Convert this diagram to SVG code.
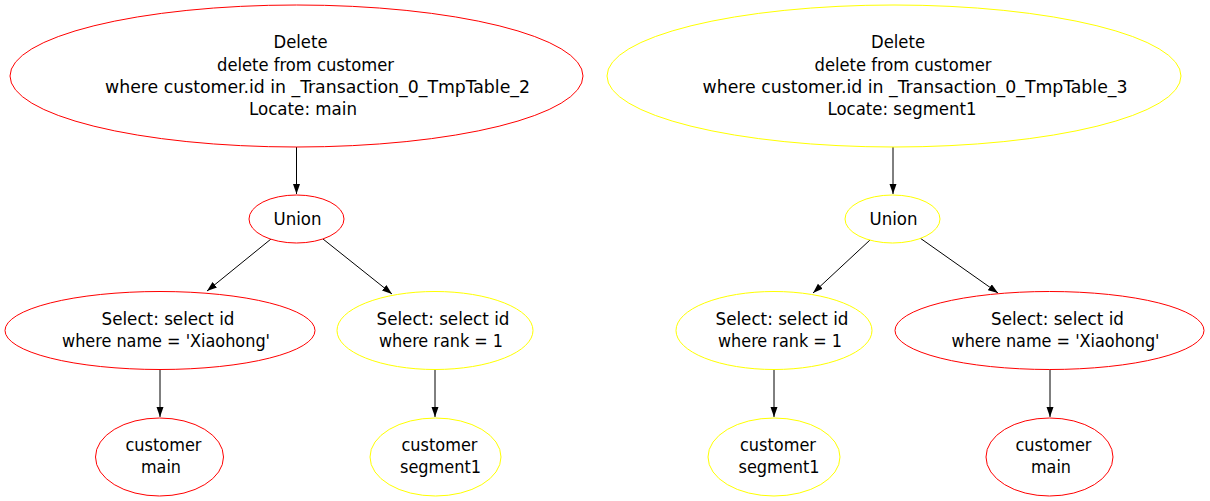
<svg xmlns="http://www.w3.org/2000/svg" width="1210" height="501" viewBox="0 0 1210 501">
<style>
  .n { fill: #ffffff; stroke-width: 1; }
  .red { stroke: #ff0000; }
  .yel { stroke: #ffff00; }
  text { font-family: "DejaVu Sans Condensed", "DejaVu Sans", sans-serif; font-size: 18px; fill: #000000; text-anchor: middle; }
  .e { stroke: #000000; stroke-width: 1; fill: none; marker-end: url(#ah); }
</style>
<defs>
  <marker id="ah" markerUnits="userSpaceOnUse" markerWidth="11" markerHeight="8" refX="10" refY="3.5" orient="auto">
    <path d="M0,0 L10,3.5 L0,7 Z" fill="#000000"/>
  </marker>
</defs>
<rect width="1210" height="501" fill="#ffffff"/>
<g id="edges">
  <line class="e" x1="296.5" y1="147" x2="296.5" y2="194"/>
  <line class="e" x1="271" y1="239" x2="207" y2="291"/>
  <line class="e" x1="323" y1="239" x2="392" y2="294"/>
  <line class="e" x1="160" y1="369" x2="160" y2="417"/>
  <line class="e" x1="435" y1="369" x2="435" y2="417"/>
  <line class="e" x1="893" y1="147" x2="893" y2="194"/>
  <line class="e" x1="870" y1="240" x2="813" y2="293"/>
  <line class="e" x1="920" y1="238" x2="998" y2="293"/>
  <line class="e" x1="774" y1="369" x2="774" y2="417"/>
  <line class="e" x1="1050" y1="369" x2="1050" y2="417"/>
</g>
<g id="deleteL">
  <ellipse class="n red" cx="296.5" cy="76" rx="286.5" ry="71"/>
  <text x="300.5" y="48" textLength="54" lengthAdjust="spacingAndGlyphs">Delete</text>
  <text x="305.5" y="71" textLength="177" lengthAdjust="spacingAndGlyphs">delete from customer</text>
  <text x="317.5" y="93" textLength="425" lengthAdjust="spacingAndGlyphs">where customer.id in _Transaction_0_TmpTable_2</text>
  <text x="303" y="115" textLength="108" lengthAdjust="spacingAndGlyphs">Locate: main</text>
</g>
<g id="unionL">
  <ellipse class="n red" cx="296.5" cy="219" rx="47.5" ry="24"/>
  <text x="297.5" y="225" textLength="48" lengthAdjust="spacingAndGlyphs">Union</text>
</g>
<g id="selectL1">
  <ellipse class="n red" cx="160" cy="330.5" rx="155" ry="39"/>
  <text x="168" y="325" textLength="133" lengthAdjust="spacingAndGlyphs">Select: select id</text>
  <text x="166" y="347" textLength="208" lengthAdjust="spacingAndGlyphs">where name = 'Xiaohong'</text>
</g>
<g id="selectL2">
  <ellipse class="n yel" cx="435" cy="330.5" rx="98" ry="39"/>
  <text x="443" y="325" textLength="133" lengthAdjust="spacingAndGlyphs">Select: select id</text>
  <text x="441" y="347" textLength="124" lengthAdjust="spacingAndGlyphs">where rank = 1</text>
</g>
<g id="custL1">
  <ellipse class="n red" cx="159.5" cy="457" rx="64" ry="39"/>
  <text x="163.5" y="451" textLength="76" lengthAdjust="spacingAndGlyphs">customer</text>
  <text x="161" y="473" textLength="40" lengthAdjust="spacingAndGlyphs">main</text>
</g>
<g id="custL2">
  <ellipse class="n yel" cx="435.5" cy="457" rx="65.5" ry="39"/>
  <text x="439.5" y="451" textLength="76" lengthAdjust="spacingAndGlyphs">customer</text>
  <text x="440.5" y="473" textLength="81" lengthAdjust="spacingAndGlyphs">segment1</text>
</g>
<g id="deleteR">
  <ellipse class="n yel" cx="894" cy="76" rx="287" ry="71"/>
  <text x="898" y="48" textLength="54" lengthAdjust="spacingAndGlyphs">Delete</text>
  <text x="903" y="71" textLength="177" lengthAdjust="spacingAndGlyphs">delete from customer</text>
  <text x="915" y="93" textLength="425" lengthAdjust="spacingAndGlyphs">where customer.id in _Transaction_0_TmpTable_3</text>
  <text x="902" y="115" textLength="149" lengthAdjust="spacingAndGlyphs">Locate: segment1</text>
</g>
<g id="unionR">
  <ellipse class="n yel" cx="892.5" cy="219" rx="47.5" ry="24"/>
  <text x="893.5" y="225" textLength="48" lengthAdjust="spacingAndGlyphs">Union</text>
</g>
<g id="selectR1">
  <ellipse class="n yel" cx="774" cy="330.5" rx="98" ry="39"/>
  <text x="782" y="325" textLength="133" lengthAdjust="spacingAndGlyphs">Select: select id</text>
  <text x="780" y="347" textLength="124" lengthAdjust="spacingAndGlyphs">where rank = 1</text>
</g>
<g id="selectR2">
  <ellipse class="n red" cx="1049.5" cy="330.5" rx="154.5" ry="39"/>
  <text x="1057.5" y="325" textLength="133" lengthAdjust="spacingAndGlyphs">Select: select id</text>
  <text x="1055.5" y="347" textLength="208" lengthAdjust="spacingAndGlyphs">where name = 'Xiaohong'</text>
</g>
<g id="custR1">
  <ellipse class="n yel" cx="774" cy="457" rx="66" ry="39"/>
  <text x="778" y="451" textLength="76" lengthAdjust="spacingAndGlyphs">customer</text>
  <text x="779" y="473" textLength="81" lengthAdjust="spacingAndGlyphs">segment1</text>
</g>
<g id="custR2">
  <ellipse class="n red" cx="1049.5" cy="457" rx="63.5" ry="39"/>
  <text x="1053.5" y="451" textLength="76" lengthAdjust="spacingAndGlyphs">customer</text>
  <text x="1051" y="473" textLength="40" lengthAdjust="spacingAndGlyphs">main</text>
</g>
</svg>
